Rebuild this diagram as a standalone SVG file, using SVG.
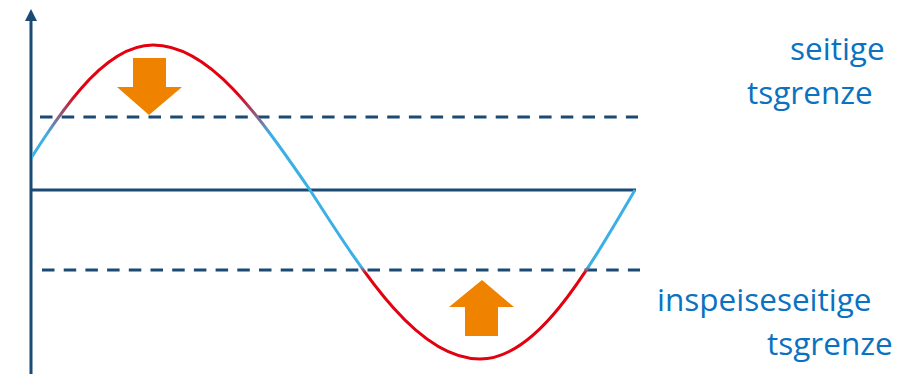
<svg xmlns="http://www.w3.org/2000/svg" width="899" height="374" viewBox="0 0 899 374">
  <style>
    .axis { stroke: #1b4b74; stroke-width: 3; fill: none; }
    .dash { stroke: #1b4b74; stroke-width: 3; fill: none; stroke-dasharray: 12.5 9.2; }
    .arrow { fill: #ef8300; }
    .label { font-family: "Open Sans", "Noto Sans", sans-serif; font-size: 31.5px; fill: #0a72c0; }
  </style>
  <defs>
    <linearGradient id="waveGrad" gradientUnits="userSpaceOnUse" x1="0" y1="0" x2="0" y2="374">
      <stop offset="0" stop-color="#e3000f"/>
      <stop offset="0.25" stop-color="#e3000f"/>
      <stop offset="0.36" stop-color="#3cb0e5"/>
      <stop offset="0.713" stop-color="#3cb0e5"/>
      <stop offset="0.73" stop-color="#e3000f"/>
      <stop offset="1" stop-color="#e3000f"/>
    </linearGradient>
    <clipPath id="waveClip">
      <rect x="32" y="0" width="867" height="374"/>
    </clipPath>
  </defs>

  <g id="axes">
    <line class="axis" x1="31" y1="20" x2="31" y2="374"/>
    <polygon points="31,9 25,21 37,21" fill="#1b4b74"/>
    <line class="axis" x1="31" y1="190" x2="636" y2="190"/>
  </g>

  <g id="limits">
    <line class="dash" x1="40" y1="117" x2="638" y2="117"/>
    <line class="dash" x1="42" y1="270" x2="640" y2="270"/>
  </g>

  <g id="wave" clip-path="url(#waveClip)">
    <path d="M11,190 C58.5,113.9 101.9,45 153,45 C209.5,45 257.5,113.9 310,190 C366.8,278.7 418.8,359 480,359 C535.8,359 583.2,278.7 635,190" fill="none" stroke="url(#waveGrad)" stroke-width="3"/>
  </g>

  <g id="arrow-down">
    <polygon class="arrow" points="133,58 166,58 166,87 182,87 149,115 117,87 133,87"/>
  </g>
  <g id="arrow-up">
    <polygon class="arrow" points="482,280 514,307 498,307 498,336 465,336 465,307 449,307"/>
  </g>

  <g id="label-upper">
    <text class="label" x="790" y="60">seitige</text>
    <text class="label" x="747" y="104">tsgrenze</text>
  </g>
  <g id="label-lower">
    <text class="label" x="657" y="311">inspeiseseitige</text>
    <text class="label" x="767" y="355">tsgrenze</text>
  </g>
</svg>
